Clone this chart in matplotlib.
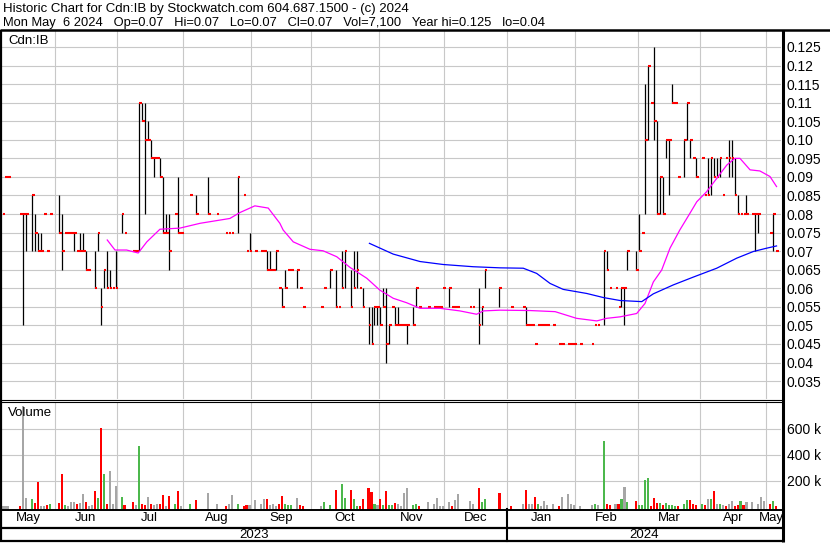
import numpy as np
import pandas as pd
import matplotlib
matplotlib.use("Agg")
import matplotlib.pyplot as plt
from matplotlib import transforms
from matplotlib.lines import Line2D

plt.rcParams['font.family'] = ['Liberation Sans', 'DejaVu Sans']

W, H, DPI = 830, 543, 100

# ---------------- data ----------------
start_date, end_date = '2023-05-08', '2024-05-06'

header1 = "Historic Chart for Cdn:IB by Stockwatch.com 604.687.1500 - (c) 2024"
header2 = "Mon May  6 2024   Op=0.07   Hi=0.07   Lo=0.07   Cl=0.07   Vol=7,100   Year hi=0.125   lo=0.04"
symbol = "Cdn:IB"

# daily bars: trading-day index, high, low, close
bar_day = [0, 1, 2, 6, 7, 8, 10, 11, 12, 13,
           14, 15, 16, 19, 20, 21, 22, 23, 24, 25,
           26, 27, 28, 29, 31, 32, 33, 34, 35, 36,
           37, 38, 40, 41, 44, 45, 46, 47, 48, 49,
           50, 51, 52, 53, 54, 55, 56, 58, 59, 60,
           63, 65, 69, 72, 75, 76, 77, 79, 81, 82,
           83, 85, 87, 88, 89, 90, 91, 92, 93, 94,
           95, 96, 97, 99, 100, 101, 107, 108, 110, 112,
           113, 114, 115, 117, 118, 119, 120, 121, 123, 124,
           125, 126, 127, 128, 129, 130, 131, 132, 133, 134,
           135, 136, 138, 139, 140, 143, 145, 146, 147, 148,
           150, 151, 152, 153, 157, 158, 160, 161, 162, 167,
           171, 175, 176, 177, 178, 179, 180, 181, 182, 183,
           185, 187, 188, 190, 191, 192, 194, 198, 199, 200,
           202, 203, 204, 206, 207, 208, 209, 210, 213, 214,
           215, 216, 217, 218, 219, 220, 221, 222, 223, 224,
           225, 226, 227, 229, 230, 231, 232, 233, 235, 236,
           237, 238, 239, 240, 241, 242, 243, 244, 245, 246,
           247, 248, 249, 250, 252, 253, 254, 258, 259, 260]
bar_high = [.080, .090, .090, .080, .080, .080, .085, .080, .075, .075,
            .080, .070, .080, .085, .080, .075, .075, .075, .075, .070,
            .075, .075, .070, .065, .070, .075, .060, .065, .070, .065,
            .060, .070, .080, .075, .070, .070, .110, .110, .110, .105,
            .100, .095, .095, .095, .090, .080, .080, .080, .090, .075,
            .085, .085, .090, .080, .075, .075, .075, .090, .085, .070,
            .075, .070, .070, .070, .070, .070, .065, .070, .060, .060,
            .065, .065, .065, .065, .060, .055, .055, .060, .065, .065,
            .055, .070, .070, .065, .070, .070, .060, .060, .055, .055,
            .055, .055, .055, .060, .060, .050, .055, .055, .055, .050,
            .050, .050, .055, .060, .055, .055, .055, .055, .055, .060,
            .060, .055, .055, .055, .055, .055, .060, .055, .065, .060,
            .055, .055, .055, .050, .050, .045, .050, .050, .050, .050,
            .050, .045, .045, .045, .045, .045, .045, .045, .050, .050,
            .070, .070, .060, .060, .055, .060, .060, .070, .070, .080,
            .075, .115, .120, .110, .125, .105, .090, .090, .100, .100,
            .115, .110, .090, .100, .110, .100, .095, .095, .095, .085,
            .095, .095, .095, .095, .095, .085, .095, .100, .100, .095,
            .085, .080, .080, .085, .080, .080, .080, .075, .080, .070]
bar_low = [.080, .090, .090, .080, .050, .070, .070, .070, .070, .070,
           .080, .070, .080, .075, .065, .075, .075, .075, .070, .070,
           .070, .070, .065, .065, .060, .070, .050, .060, .060, .060,
           .060, .060, .075, .075, .070, .070, .070, .105, .080, .100,
           .095, .090, .095, .090, .075, .075, .065, .080, .075, .075,
           .085, .080, .080, .080, .075, .075, .075, .075, .085, .070,
           .070, .070, .070, .070, .065, .065, .065, .065, .060, .055,
           .060, .065, .065, .060, .060, .055, .055, .060, .060, .055,
           .055, .060, .060, .055, .060, .060, .060, .055, .045, .045,
           .050, .050, .050, .055, .040, .045, .055, .050, .050, .050,
           .050, .045, .050, .055, .055, .055, .055, .055, .055, .060,
           .055, .055, .055, .055, .055, .055, .045, .050, .060, .055,
           .055, .055, .050, .050, .050, .045, .050, .050, .050, .050,
           .050, .045, .045, .045, .045, .045, .045, .045, .050, .050,
           .050, .065, .060, .060, .055, .055, .050, .065, .065, .070,
           .075, .080, .100, .110, .100, .080, .080, .080, .095, .085,
           .110, .110, .090, .090, .100, .095, .095, .090, .095, .085,
           .085, .085, .090, .090, .090, .085, .095, .090, .090, .085,
           .080, .080, .080, .080, .080, .070, .075, .075, .070, .070]
bar_close = [.080, .090, .090, .080, .080, .080, .085, .075, .070, .070,
             .080, .070, .080, .075, .070, .075, .075, .075, .075, .070,
             .070, .070, .065, .065, .060, .075, .055, .065, .060, .060,
             .060, .060, .080, .075, .070, .070, .110, .105, .100, .100,
             .095, .095, .095, .090, .075, .075, .070, .080, .075, .075,
             .085, .080, .080, .080, .075, .075, .075, .090, .085, .070,
             .070, .070, .070, .070, .065, .065, .065, .070, .060, .055,
             .060, .065, .065, .065, .060, .055, .055, .060, .065, .055,
             .055, .060, .070, .055, .060, .065, .060, .055, .050, .045,
             .055, .055, .050, .055, .045, .050, .055, .050, .050, .050,
             .050, .050, .050, .060, .055, .055, .055, .055, .055, .060,
             .060, .055, .055, .055, .055, .055, .050, .055, .065, .060,
             .055, .055, .050, .050, .050, .045, .050, .050, .050, .050,
             .050, .045, .045, .045, .045, .045, .045, .045, .050, .050,
             .070, .065, .060, .060, .055, .060, .060, .070, .065, .070,
             .075, .100, .120, .110, .105, .080, .090, .080, .100, .100,
             .110, .110, .090, .100, .110, .100, .095, .090, .095, .085,
             .085, .095, .090, .090, .095, .085, .095, .095, .095, .085,
             .080, .080, .080, .080, .080, .080, .080, .075, .080, .070]

# daily volume (thousands of shares); direction r=down, g=up, n=unchanged
vol_day = [0, 1, 2, 6, 7, 8, 10, 11, 12, 13, 14, 15, 16, 19, 20, 21, 22, 23, 24, 25,
           26, 27, 28, 29, 30, 31, 32, 33, 34, 35, 36, 37, 38, 40, 41, 44, 45, 46, 47, 48,
           49, 50, 51, 52, 53, 54, 55, 56, 58, 59, 60, 63, 65, 69, 72, 75, 76, 77, 79, 81,
           82, 83, 85, 87, 88, 89, 90, 91, 92, 93, 94, 95, 96, 97, 99, 100, 101, 107, 108, 110,
           112, 114, 115, 117, 118, 119, 120, 121, 123, 124, 125, 126, 127, 128, 129, 130, 131, 132, 133, 134,
           135, 136, 138, 139, 140, 143, 145, 146, 147, 148, 150, 151, 152, 153, 157, 158, 160, 161, 162, 167,
           171, 175, 176, 177, 178, 179, 180, 181, 182, 183, 185, 187, 188, 190, 191, 192, 194, 198, 199, 200,
           202, 203, 204, 206, 207, 208, 209, 210, 213, 214, 215, 216, 217, 218, 219, 220, 221, 222, 223, 224,
           225, 226, 227, 229, 230, 231, 232, 233, 235, 236, 237, 238, 239, 240, 241, 242, 243, 244, 245, 246,
           247, 248, 249, 250, 252, 254, 255, 256, 258, 259, 260]
vol_k = [8, 8, 8, 5, 775, 70, 60, 32, 190, 8, 5, 12, 18, 32, 250, 10, 5, 40, 35, 18,
         28, 100, 40, 5, 10, 122, 70, 610, 250, 18, 272, 18, 160, 78, 10, 35, 10, 468, 25, 10,
         78, 18, 10, 18, 18, 92, 5, 85, 25, 122, 5, 18, 55, 108, 25, 5, 18, 92, 18, 5,
         10, 10, 55, 18, 62, 62, 10, 18, 5, 18, 85, 18, 10, 10, 70, 10, 5, 5, 40, 10,
         130, 175, 70, 130, 62, 5, 5, 62, 145, 115, 18, 10, 62, 10, 122, 10, 10, 32, 25, 5,
         108, 145, 10, 18, 5, 40, 25, 70, 5, 5, 40, 5, 55, 100, 48, 25, 145, 40, 62, 108,
         5, 18, 130, 25, 25, 78, 18, 5, 48, 10, 25, 5, 78, 100, 18, 10, 5, 10, 18, 10,
         505, 18, 10, 18, 18, 62, 152, 35, 48, 10, 10, 205, 220, 5, 70, 32, 32, 10, 32, 10,
         10, 5, 5, 25, 55, 55, 18, 10, 18, 10, 62, 62, 122, 18, 25, 10, 5, 18, 48, 5,
         10, 48, 10, 40, 40, 25, 78, 48, 25, 48, 7]
vol_dir = list("nnnrnngrrnnrgrrgnnnr"
               "nnrnnrgrgrnnngrrngrr"
               "nrnnrrnrgrngrnnrnngr"
               "rnnnnrnnnrrgggnrrngg"
               "rggrggrrrrgnrgrggrnn"
               "nnggrnnnnnnrnnnnrggr"
               "rnrnnrgnnnnrnnnnnngn"
               "grrnrgngrggggrrrgrgg"
               "ggrggrrrgrngrngnrnnr"
               "rgrnnnnnrgr")

# moving averages: (trading-day index, price)
ma_fast_day = [35.2, 37.8, 41.7, 45.6, 48.5, 52.9, 59.6, 66.4, 76.4, 79.8,
               84.8, 89.3, 93.2, 94.3, 97.7, 103.3, 107.7, 112.3, 116.8, 122.4,
               126.8, 131.3, 135.8, 140.3, 147.0, 153.7, 159.3, 161.6, 167.2, 177.2,
               185.7, 192.9, 199.7, 203.0, 207.5, 213.1, 215.9, 218.7, 221.5, 224.3,
               227.6, 231.0, 233.3, 236.6, 240.0, 243.4, 246.1, 247.8, 251.2, 254.5,
               257.9, 260.1]
ma_fast_val = [.0730, .0703, .0703, .0695, .0725, .0759, .0762, .0775, .0788, .0804,
               .0822, .0816, .0775, .0757, .0725, .0705, .0701, .0685, .0656, .0627,
               .0595, .0573, .0561, .0546, .0546, .0539, .0530, .0539, .0541, .0540,
               .0537, .0519, .0512, .0519, .0523, .0532, .0559, .0617, .0649, .0708,
               .0757, .0802, .0833, .0860, .0896, .0932, .0950, .0950, .0919, .0916,
               .0901, .0874]
ma_slow_day = [123.3, 131.3, 140.3, 148.1, 158.2, 167.2, 175.0, 179.5, 184.0, 188.4,
               196.3, 201.9, 207.5, 214.8, 218.7, 225.4, 232.1, 240.0, 246.7, 252.3,
               256.8, 260.1]
ma_slow_val = [.0721, .0692, .0672, .0664, .0658, .0655, .0654, .0640, .0613, .0597,
               .0586, .0575, .0567, .0564, .0585, .0609, .0630, .0654, .0681, .0699,
               .0708, .0714]

price_ticks = [0.035, 0.04, 0.045, 0.05, 0.055, 0.06, 0.065, 0.07, 0.075, 0.08,
               0.085, 0.09, 0.095, 0.10, 0.105, 0.11, 0.115, 0.12, 0.125]
price_labels = ["0.035", "0.04", "0.045", "0.05", "0.055", "0.06", "0.065", "0.07",
                "0.075", "0.08", "0.085", "0.09", "0.095", "0.10", "0.105", "0.11",
                "0.115", "0.12", "0.125"]
vol_ticks = [200000, 400000, 600000]
vol_labels = ["200 k", "400 k", "600 k"]
month_labels = ["May", "Jun", "Jul", "Aug", "Sep", "Oct", "Nov", "Dec",
                "Jan", "Feb", "Mar", "Apr", "May"]
year_labels = ["2023", "2024"]

# ---------------- layout helpers ----------------
dates = pd.bdate_range(start_date, end_date)
n_days = len(dates)
month_starts = pd.date_range(dates[0] + pd.offsets.MonthBegin(1), dates[-1], freq='MS')
bounds = [dates.searchsorted(m, side='right') - 1 - 0.5 for m in month_starts]
x_lo, x_hi = -0.17, n_days + 0.6
edges = [x_lo] + bounds + [n_days - 0.5]
month_centers = [(a + b) / 2 for a, b in zip(edges[:-1], edges[1:])]
jan_idx = [i for i, m in enumerate(month_starts) if m.month == 1][0]
year_bound = bounds[jan_idx]
year_centers = [(x_lo + year_bound) / 2, (year_bound + x_hi) / 2]


def box(x0, y0, x1, y1):
    return [x0 / W, 1 - y1 / H, (x1 - x0) / W, (y1 - y0) / H]


GRID = '#c8c8c8'
RED = '#ff0000'
GREEN = '#4cb84c'
GRAY = '#a6a6a6'
FS = 9.5
TFS = 10

fig = plt.figure(figsize=(W / DPI, H / DPI), dpi=DPI, facecolor='white')

# ---------------- price panel ----------------
axp = fig.add_axes(box(2, 31, 781, 399))
axp.set_xlim(x_lo, x_hi)
axp.set_ylim(0.03017, 0.1293)
for s in axp.spines.values():
    s.set_visible(False)
axp.set_yticks(price_ticks, price_labels)
axp.set_xticks([])
axp.set_xticks(bounds, minor=True)
axp.yaxis.tick_right()
axp.tick_params(axis='both', which='both', length=0)
axp.tick_params(axis='y', labelsize=TFS, pad=4.3)
axp.grid(True, which='major', axis='y', color=GRID, lw=0.8)
axp.grid(True, which='minor', axis='x', color=GRID, lw=0.8)
axp.set_axisbelow(True)

bd = np.array(bar_day, float)
bh = np.array(bar_high)
bl = np.array(bar_low)
bc = np.array(bar_close)
rng = bh > bl + 1e-9
axp.vlines(bd[rng], bl[rng], bh[rng], color='black', lw=0.9, zorder=3)
axp.hlines(bc, bd, bd + 0.9, color=RED, lw=1.5, zorder=4, capstyle='butt')
axp.plot(ma_fast_day, ma_fast_val, color='#ff00ff', lw=0.9, zorder=5)
axp.plot(ma_slow_day, ma_slow_val, color='#0000ff', lw=0.9, zorder=5)
axp.text(6 / 779, 1 - 10 / 368, symbol, transform=axp.transAxes, fontsize=FS,
         ha='left', va='center')

# ---------------- volume panel ----------------
axv = fig.add_axes(box(2, 402.5, 781, 509.5))
axv.set_xlim(x_lo, x_hi)
vol_bottom = -21000
axv.set_ylim(vol_bottom, 803000)
for s in axv.spines.values():
    s.set_visible(False)
axv.set_yticks(vol_ticks, vol_labels)
axv.yaxis.tick_right()
axv.set_xticks(month_centers, month_labels)
axv.set_xticks(bounds, minor=True)
axv.tick_params(axis='both', which='both', length=0)
axv.tick_params(axis='y', labelsize=TFS, pad=4.3)
axv.tick_params(axis='x', labelsize=FS, pad=1.5)
axv.grid(True, which='major', axis='y', color=GRID, lw=0.8)
axv.grid(True, which='minor', axis='x', color=GRID, lw=0.8)
axv.set_axisbelow(True)
cmap = {'r': RED, 'g': GREEN, 'n': GRAY}
vv = np.array(vol_k, float) * 1000
axv.bar(vol_day, vv - vol_bottom, bottom=vol_bottom, width=0.7,
        color=[cmap[c] for c in vol_dir], linewidth=0, zorder=3)
axv.text(6 / 779, 1 - 11 / 107, "Volume", transform=axv.transAxes, fontsize=FS,
         ha='left', va='center')

# ---------------- year labels ----------------
ytr = transforms.blended_transform_factory(axv.transData, fig.transFigure)
for xc, lab in zip(year_centers, year_labels):
    fig.text(xc, 1 - 535 / H, lab, transform=ytr, fontsize=FS, ha='center', va='center')
fig.add_artist(Line2D([year_bound, year_bound], [1 - 509 / H, 1 - 541 / H],
                      transform=ytr, color='black', lw=1.5))

# ---------------- frame lines ----------------
ov = fig.add_axes([0, 0, 1, 1], zorder=10)
ov.set_xlim(0, W)
ov.set_ylim(H, 0)
ov.axis('off')
ov.patch.set_visible(False)
K = 'black'
ov.plot([0, W], [30, 30], color=K, lw=1.8, solid_capstyle='butt')
ov.plot([1, 1], [30, 542], color=K, lw=1.6, solid_capstyle='butt')
ov.plot([782.5, 782.5], [30, 542], color=K, lw=2.2, solid_capstyle='butt')
ov.plot([0, 782], [399.8, 399.8], color=K, lw=0.8)
ov.plot([0, 782], [402.2, 402.2], color=K, lw=0.8)
ov.plot([0, 782], [509.7, 509.7], color=K, lw=1.4)
ov.plot([0, 782], [527.7, 527.7], color=K, lw=1.6)
ov.plot([0, 782], [541.2, 541.2], color=K, lw=1.6)

# ---------------- header ----------------
t1 = fig.text(3 / W, 1 - 9 / H, header1, fontsize=10, ha='left', va='center')
t2 = fig.text(3 / W, 1 - 23 / H, header2, fontsize=10, ha='left', va='center')
fig.canvas.draw()
r = fig.canvas.get_renderer()
for t, target in ((t1, 410), (t2, 540)):
    w = t.get_window_extent(r).width
    t.set_fontsize(10 * target / w)

fig.savefig("out.png", dpi=DPI, facecolor='white')
